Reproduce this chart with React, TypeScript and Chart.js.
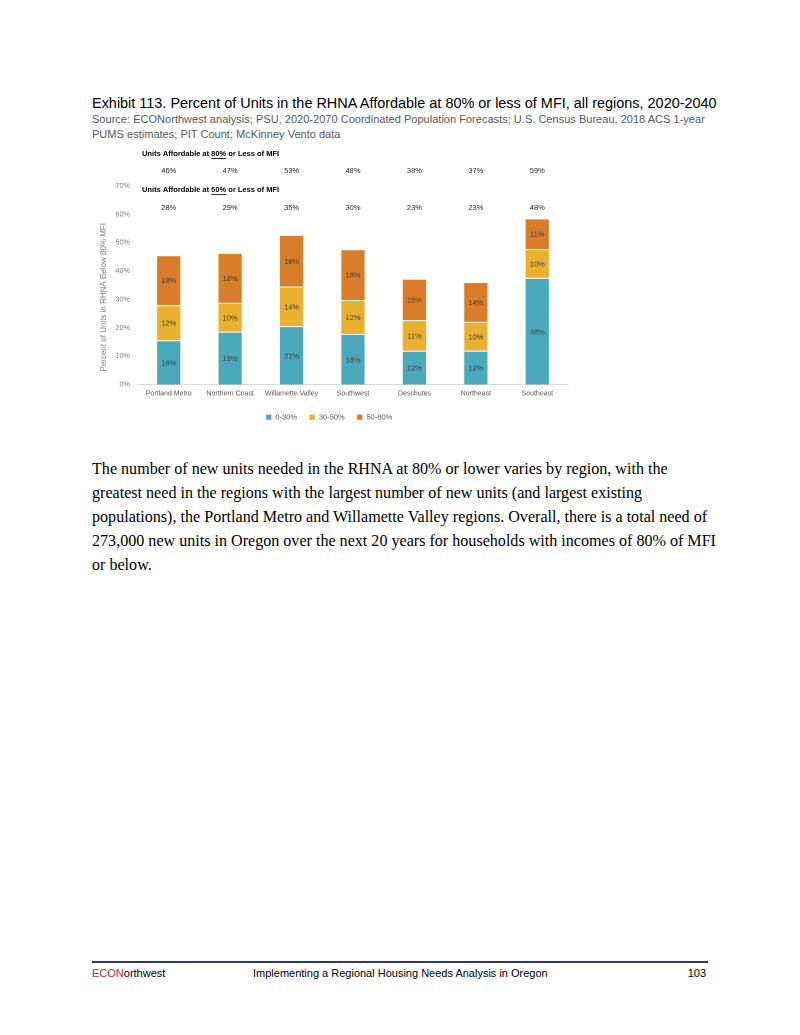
import React, { useEffect, useRef } from "react";
import { Chart, registerables } from "chart.js";

Chart.register(...registerables);

const regions = [
  "Portland Metro",
  "Northern Coast",
  "Willamette Valley",
  "Southwest",
  "Deschutes",
  "Northeast",
  "Southeast",
];
const share0to30 = [15.6, 18.6, 20.6, 17.8, 11.9, 11.9, 37.6];
const share30to50 = [12.4, 10.2, 13.9, 12.0, 10.8, 10.2, 10.2];
const share50to80 = [17.6, 17.6, 18.2, 17.9, 14.6, 14.0, 10.8];
const total80Labels = ["46%", "47%", "53%", "48%", "38%", "37%", "59%"];
const total50Labels = ["28%", "29%", "35%", "30%", "23%", "23%", "48%"];
const seriesNames = ["0-30%", "30-50%", "50-80%"];
const seriesColors = ["#4BA9BE", "#EAB030", "#D97D2A"];
const yTitle = "Percent of Units in RHNA Below 80% MFI";
const yMax = 70;
const yStep = 10;

const FONT = "'Liberation Sans', Arial, sans-serif";

const segmentLabels = {
  id: "segmentLabels",
  afterDatasetsDraw(chart: any) {
    const ctx = chart.ctx;
    ctx.save();
    ctx.font = `7.5px ${FONT}`;
    ctx.fillStyle = "#404040";
    ctx.textAlign = "center";
    ctx.textBaseline = "middle";
    chart.data.datasets.forEach((ds: any, di: number) => {
      const meta = chart.getDatasetMeta(di);
      meta.data.forEach((el: any, i: number) => {
        const v = ds.data[i];
        const { x, y, base } = el.getProps(["x", "y", "base"], true);
        ctx.fillText(Math.round(v) + "%", x, (y + base) / 2 + 1);
      });
    });
    ctx.restore();
  },
};

function drawHeader(ctx: any, x: number, y: number, pre: string, mid: string, post: string) {
  ctx.font = `bold 7.5px ${FONT}`;
  ctx.fillStyle = "#000000";
  ctx.textAlign = "left";
  ctx.textBaseline = "middle";
  ctx.fillText(pre, x, y);
  const w1 = ctx.measureText(pre).width;
  ctx.fillText(mid, x + w1, y);
  const w2 = ctx.measureText(mid).width;
  ctx.fillRect(x + w1, y + 4, w2, 0.8);
  ctx.fillText(post, x + w1 + w2, y);
}

const annotations = {
  id: "annotations",
  afterDraw(chart: any) {
    const ctx = chart.ctx;
    const xs = chart.scales.x;
    const { top, bottom } = chart.chartArea;
    ctx.save();
    drawHeader(ctx, 52, top - 32, "Units Affordable at ", "80%", " or Less of MFI");
    drawHeader(ctx, 52, top + 4, "Units Affordable at ", "50%", " or Less of MFI");
    ctx.font = `7.5px ${FONT}`;
    ctx.fillStyle = "#262626";
    ctx.textAlign = "center";
    ctx.textBaseline = "middle";
    total80Labels.forEach((t, i) => {
      ctx.fillText(t, xs.getPixelForValue(i), top - 15);
    });
    total50Labels.forEach((t, i) => {
      ctx.fillText(t, xs.getPixelForValue(i), top + 22);
    });
    // y-axis title, sitting a little below the plot's centre as in the source
    ctx.translate(14, (top + bottom) / 2 + 12);
    ctx.rotate(-Math.PI / 2);
    ctx.font = `8px ${FONT}`;
    ctx.fillStyle = "#7F7F7F";
    ctx.fillText(yTitle, 0, 0);
    ctx.restore();
  },
};

function ChartBox() {
  const ref = useRef<HTMLCanvasElement>(null);
  useEffect(() => {
    if (!ref.current) return;
    const chart = new Chart(ref.current, {
      type: "bar",
      data: {
        labels: regions,
        datasets: [share0to30, share30to50, share50to80].map((d, i) => ({
          label: seriesNames[i],
          data: d,
          backgroundColor: seriesColors[i],
          borderColor: "rgba(255,245,225,0.9)",
          borderWidth: 1,
          barPercentage: 0.41,
          categoryPercentage: 1,
        })),
      },
      options: {
        animation: false,
        responsive: false,
        maintainAspectRatio: false,
        devicePixelRatio: 2,
        layout: { padding: { top: 46, right: 12, left: 0, bottom: 0 } },
        plugins: {
          tooltip: { enabled: false },
          legend: {
            position: "bottom",
            labels: {
              boxWidth: 6,
              boxHeight: 6,
              padding: 12,
              color: "#595959",
              font: { size: 7.5, family: FONT },
            },
          },
        },
        scales: {
          x: {
            stacked: true,
            grid: { display: false, drawTicks: false },
            border: { display: true, color: "#D9D9D9", width: 1 },
            ticks: { color: "#595959", font: { size: 7, family: FONT }, padding: 5, maxRotation: 0, autoSkip: false },
            afterFit: (s: any) => {
              s.height = 17;
            },
          },
          y: {
            stacked: true,
            min: 0,
            max: yMax,
            grid: { display: false },
            border: { display: false },
            ticks: {
              stepSize: yStep,
              color: "#7F7F7F",
              padding: 0,
              font: { size: 7.3, family: FONT },
              callback: (v: any) => v + "%",
            },
            afterFit: (s: any) => {
              s.width = 48;
            },
          },
        },
      },
      plugins: [segmentLabels, annotations],
    });
    return () => chart.destroy();
  }, []);
  return (
    <canvas
      ref={ref}
      width={490}
      height={291}
      style={{ position: "absolute", left: 90, top: 140, width: 490, height: 291 }}
    />
  );
}

export default function App() {
  const bodyLines = [
    "The number of new units needed in the RHNA at 80% or lower varies by region, with the",
    "greatest need in the regions with the largest number of new units (and largest existing",
    "populations), the Portland Metro and Willamette Valley regions. Overall, there is a total need of",
    "273,000 new units in Oregon over the next 20 years for households with incomes of 80% of MFI",
    "or below.",
  ];
  return (
    <div style={{ position: "relative", width: 800, height: 1035, background: "#fff" }}>
      <style>{`body{margin:0}`}</style>
      <div
        style={{
          position: "absolute",
          left: 92,
          top: 95,
          fontFamily: FONT,
          fontSize: 14.45,
          lineHeight: "17px",
          color: "#000",
          whiteSpace: "nowrap",
        }}
      >
        Exhibit 113. Percent of Units in the RHNA Affordable at 80% or less of MFI, all regions, 2020-2040
      </div>
      <div
        style={{
          position: "absolute",
          left: 92,
          top: 112,
          fontFamily: FONT,
          fontSize: 11.05,
          lineHeight: "15px",
          color: "#595959",
          whiteSpace: "nowrap",
        }}
      >
        Source: ECONorthwest analysis; PSU, 2020-2070 Coordinated Population Forecasts; U.S. Census Bureau, 2018 ACS 1-year
        <br />
        PUMS estimates; PIT Count; McKinney Vento data
      </div>
      <ChartBox />
      <div
        style={{
          position: "absolute",
          left: 92,
          top: 457,
          fontFamily: "'Liberation Serif', 'DejaVu Serif', serif",
          fontSize: 16.1,
          lineHeight: "24px",
          color: "#000",
          whiteSpace: "nowrap",
        }}
      >
        {bodyLines.map((l, i) => (
          <div key={i}>{l}</div>
        ))}
      </div>
      <div style={{ position: "absolute", left: 92, top: 961, width: 616, height: 2, background: "#2B3A67" }} />
      <div
        style={{
          position: "absolute",
          left: 92,
          top: 966,
          width: 616,
          fontFamily: FONT,
          fontSize: 11,
          lineHeight: "14px",
          color: "#000",
          whiteSpace: "nowrap",
        }}
      >
        <span style={{ color: "#C0262D" }}>ECON</span>
        <span>orthwest</span>
        <span style={{ position: "absolute", left: 161 }}>Implementing a Regional Housing Needs Analysis in Oregon</span>
        <span style={{ position: "absolute", right: 2 }}>103</span>
      </div>
    </div>
  );
}
